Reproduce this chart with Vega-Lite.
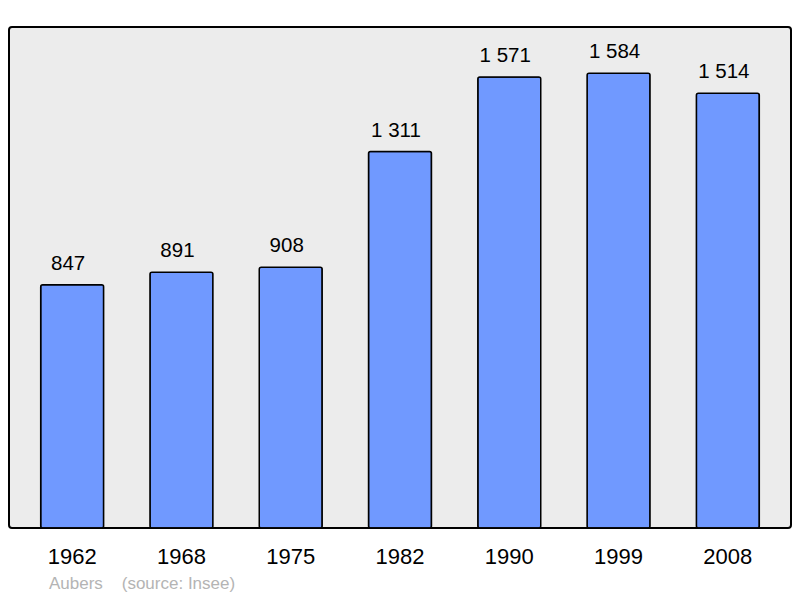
{
  "$schema": "https://vega.github.io/schema/vega-lite/v6.json",
  "description": "Population of Aubers by census year",
  "autosize": "none",
  "width": 782,
  "height": 501,
  "padding": {"left": 9, "top": 27, "right": 9, "bottom": 70},
  "background": "white",
  "data": {
    "values": [
      {"year": "1962", "population": 847},
      {"year": "1968", "population": 891},
      {"year": "1975", "population": 908},
      {"year": "1982", "population": 1311},
      {"year": "1990", "population": 1571},
      {"year": "1999", "population": 1584},
      {"year": "2008", "population": 1514}
    ]
  },
  "title": {
    "text": "Aubers \u00a0\u00a0 (source: Insee)",
    "orient": "bottom",
    "anchor": "start",
    "dx": 40,
    "offset": 9,
    "font": "Liberation Sans",
    "fontSize": 17,
    "fontWeight": "normal",
    "color": "#b4b4b4"
  },
  "encoding": {
    "x": {
      "field": "year",
      "type": "ordinal",
      "title": null,
      "scale": {"paddingInner": 0.424, "paddingOuter": 0.29},
      "axis": {
        "labelAngle": 0,
        "ticks": false,
        "domain": false,
        "labelFontSize": 22,
        "labelFont": "Liberation Sans",
        "labelColor": "black",
        "labelPadding": 18
      }
    },
    "y": {
      "field": "population",
      "type": "quantitative",
      "scale": {"domain": [0, 1745], "nice": false},
      "axis": null
    }
  },
  "layer": [
    {
      "mark": {
        "type": "bar",
        "fill": "#7099ff",
        "stroke": "black",
        "strokeWidth": 1.5,
        "cornerRadius": 2
      }
    },
    {
      "mark": {
        "type": "text",
        "baseline": "alphabetic",
        "dy": -15,
        "dx": -4,
        "font": "Liberation Sans",
        "fontSize": 20.5,
        "color": "black"
      },
      "encoding": {
        "text": {"field": "population", "type": "quantitative", "format": ",d"}
      }
    }
  ],
  "config": {
    "locale": {
      "number": {
        "decimal": ",",
        "thousands": " ",
        "grouping": [3],
        "currency": ["", " €"]
      }
    },
    "view": {
      "fill": "#ececec",
      "stroke": "black",
      "strokeWidth": 2,
      "cornerRadius": 3
    }
  }
}
